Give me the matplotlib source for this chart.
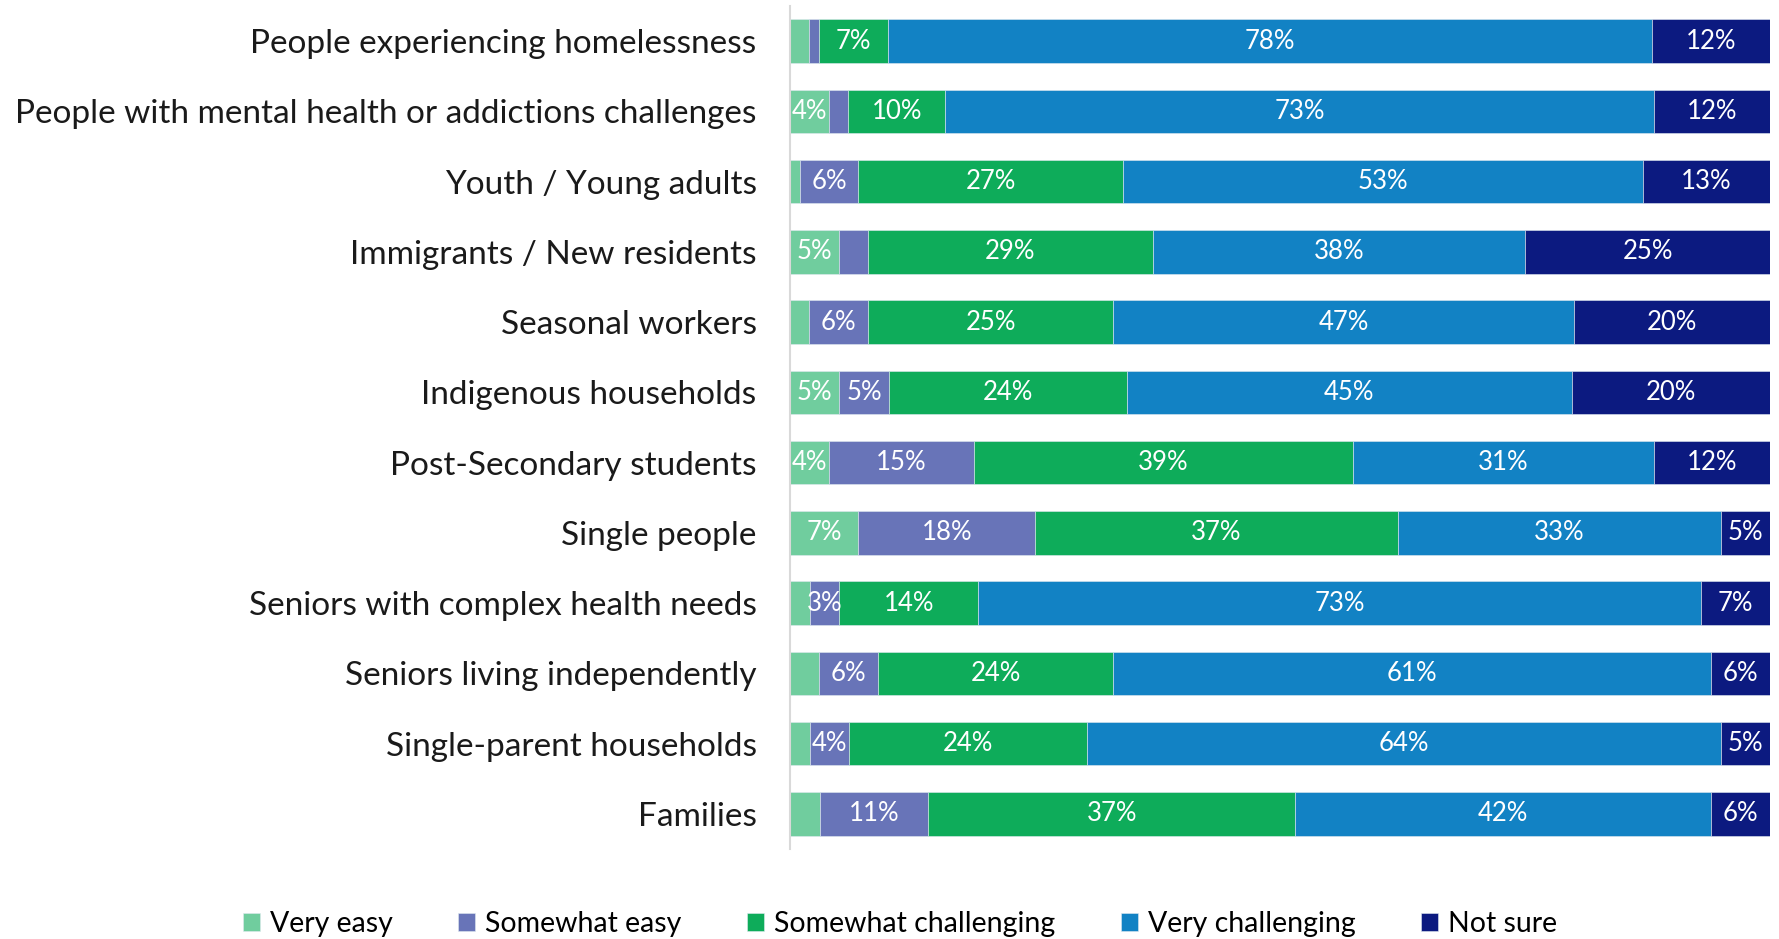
import matplotlib.pyplot as plt
import numpy as np

plt.rcParams['font.family'] = ['Lato', 'DejaVu Sans']

# groups, listed top to bottom
groups = ['People experiencing homelessness',
          'People with mental health or addictions challenges',
          'Youth / Young adults',
          'Immigrants / New residents',
          'Seasonal workers',
          'Indigenous households',
          'Post-Secondary students',
          'Single people',
          'Seniors with complex health needs',
          'Seniors living independently',
          'Single-parent households',
          'Families']

very_easy = [2, 4, 1, 5, 2, 5, 4, 7, 2, 3, 2, 3]
somewhat_easy = [1, 2, 6, 3, 6, 5, 15, 18, 3, 6, 4, 11]
somewhat_challenging = [7, 10, 27, 29, 25, 24, 39, 37, 14, 24, 24, 37]
very_challenging = [78, 73, 53, 38, 47, 45, 31, 33, 73, 61, 64, 42]
not_sure = [12, 12, 13, 25, 20, 20, 12, 5, 7, 6, 5, 6]

series = [('Very easy', very_easy, '#70CD9E'),
          ('Somewhat easy', somewhat_easy, '#6874B8'),
          ('Somewhat challenging', somewhat_challenging, '#0EAC5A'),
          ('Very challenging', very_challenging, '#1282C4'),
          ('Not sure', not_sure, '#0C1A80')]

# segments too narrow to carry a label: (series name, row)
unlabelled = {('Very easy', 0), ('Very easy', 2), ('Very easy', 4), ('Very easy', 8),
              ('Very easy', 9), ('Very easy', 10), ('Very easy', 11),
              ('Somewhat easy', 0), ('Somewhat easy', 1), ('Somewhat easy', 3)}

fig = plt.figure(figsize=(17.79, 9.39), dpi=100)
ax = fig.add_axes([0.444, 0.0958, 0.551, 0.8978])

y = np.arange(len(groups))
totals = np.sum([s[1] for s in series], axis=0)
left = np.zeros(len(groups))
for name, vals, col in series:
    vals = np.array(vals, dtype=float)
    widths = vals / totals * 100
    bars = ax.barh(y, widths, left=left, height=0.62, color=col,
                   edgecolor='#dfe9f0', linewidth=0.4, label=name)
    for i, (b, v) in enumerate(zip(bars, vals)):
        if (name, i) in unlabelled:
            continue
        ax.text(b.get_x() + b.get_width() / 2, b.get_y() + b.get_height() / 2,
                f'{int(v)}%', ha='center', va='center', color='white',
                fontsize=18.5)
    left += widths

ax.set_xlim(0, 100)
ax.set_ylim(len(groups) - 0.5, -0.5)
ax.set_yticks(y)
ax.set_yticklabels(groups, fontsize=24, color='#1a1a1a')
ax.tick_params(axis='y', length=0, pad=24)
ax.set_xticks([])
for sp in ['top', 'right', 'bottom']:
    ax.spines[sp].set_visible(False)
ax.spines['left'].set_color('#d9d9d9')
ax.spines['left'].set_linewidth(1.5)

fig.legend(loc='lower center', bbox_to_anchor=(0.506, -0.025), ncol=5,
           frameon=False, fontsize=20.5, handlelength=0.6, handleheight=0.6,
           handletextpad=0.35, columnspacing=2.3)

fig.savefig('out.png', dpi=100)
